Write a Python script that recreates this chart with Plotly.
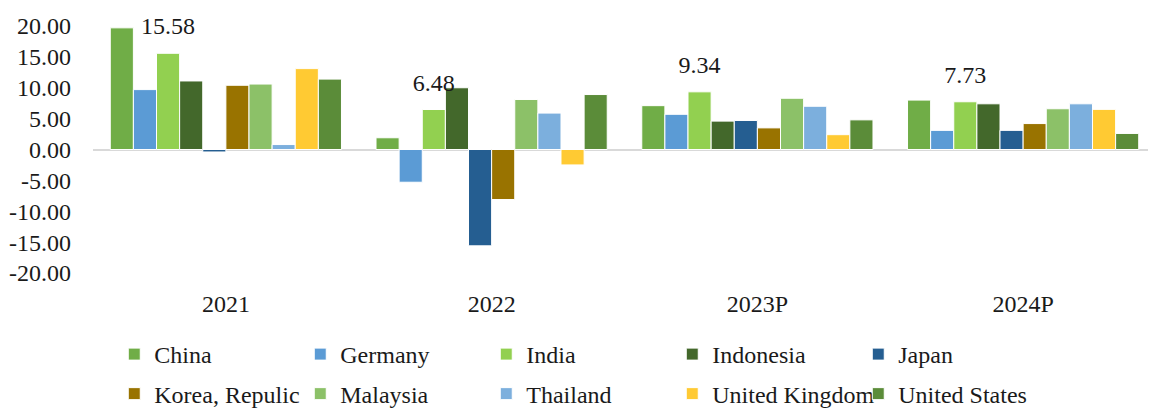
import plotly.graph_objects as go

years = ["2021", "2022", "2023P", "2024P"]

china = [19.7, 1.9, 7.1, 8.0]
germany = [9.7, -5.3, 5.7, 3.1]
india = [15.58, 6.48, 9.34, 7.73]
indonesia = [11.1, 10.0, 4.6, 7.4]
japan = [-0.4, -15.6, 4.7, 3.1]
korea = [10.4, -8.1, 3.5, 4.2]
malaysia = [10.6, 8.1, 8.3, 6.6]
thailand = [0.8, 5.9, 7.0, 7.4]
uk = [13.1, -2.5, 2.4, 6.5]
us = [11.4, 8.9, 4.8, 2.6]

y_ticks = [-20, -15, -10, -5, 0, 5, 10, 15, 20]
y_ticktext = ["-20.00", "-15.00", "-10.00", "-5.00", "0.00", "5.00", "10.00", "15.00", "20.00"]

series = [
    ("China", china, "#70AD47"),
    ("Germany", germany, "#5B9BD5"),
    ("India", india, "#92D050"),
    ("Indonesia", indonesia, "#43682B"),
    ("Japan", japan, "#255E91"),
    ("Korea, Repulic", korea, "#997300"),
    ("Malaysia", malaysia, "#8CC168"),
    ("Thailand", thailand, "#7CAFDD"),
    ("United Kingdom", uk, "#FFCA33"),
    ("United States", us, "#5B8C39"),
]

FONT = "Liberation Serif"
TXT = "#1a1a1a"

fig = go.Figure()
for i, (name, vals, color) in enumerate(series):
    fig.add_trace(go.Bar(
        x=years,
        y=vals,
        name=name,
        offsetgroup=name,
        alignmentgroup="all",
        legend="legend" if i < 5 else "legend2",
        marker=dict(color=color, line=dict(color="white", width=1)),
    ))

# data labels for India, drawn on top of all bars
fig.add_trace(go.Scatter(
    x=years,
    y=india,
    mode="markers+text",
    offsetgroup="India",
    alignmentgroup="all",
    text=[f"{v:.2f}" for v in india],
    textposition="top center",
    textfont=dict(family=FONT, size=24, color=TXT),
    marker=dict(size=19, opacity=0),
    showlegend=False,
    hoverinfo="skip",
    cliponaxis=False,
))

legend_style = dict(
    orientation="h",
    x=0.02,
    xanchor="left",
    yanchor="middle",
    entrywidth=141,
    font=dict(family=FONT, size=24, color=TXT),
    bgcolor="rgba(0,0,0,0)",
)

# the page body adds an 8px margin, so the figure is 8px smaller
fig.update_layout(
    width=1148,
    height=402,
    margin=dict(l=85, r=0, t=18, b=137, autoexpand=False),
    barmode="group",
    bargap=0.13,
    bargroupgap=0,
    scattermode="group",
    scattergap=0.13,
    plot_bgcolor="white",
    paper_bgcolor="white",
    font=dict(family=FONT, size=24, color=TXT),
    legend=dict(legend_style, y=-0.33),
    legend2=dict(legend_style, y=-0.49),
)

fig.update_yaxes(
    range=[-20, 20],
    tickvals=y_ticks,
    ticktext=y_ticktext,
    showgrid=False,
    zeroline=True,
    zerolinecolor="#D9D9D9",
    zerolinewidth=2,
    showline=False,
    ticks="",
    ticklabelstandoff=21,
)
fig.update_xaxes(
    showgrid=False,
    showline=False,
    ticks="",
    ticklabelstandoff=14,
)

fig.write_html("out.html")
